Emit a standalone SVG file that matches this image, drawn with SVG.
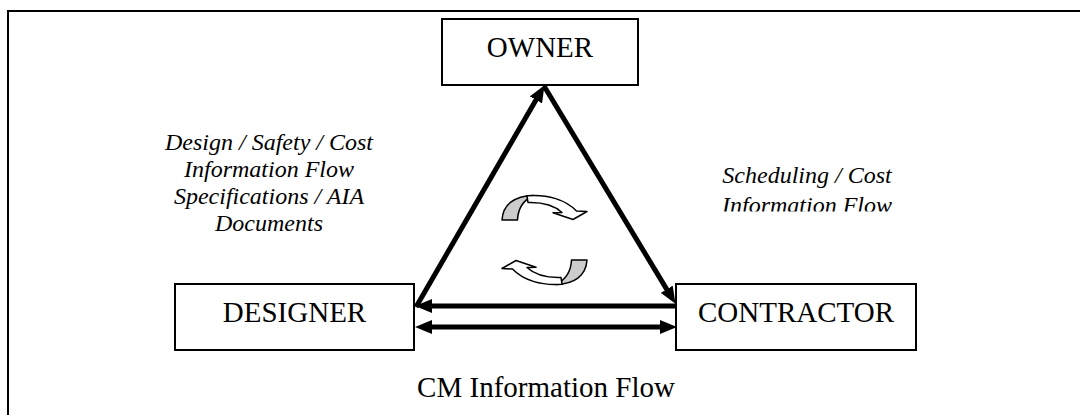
<svg xmlns="http://www.w3.org/2000/svg" width="1080" height="415" viewBox="0 0 1080 415">
<defs>
<style>
.box{fill:#fff;stroke:#000;stroke-width:2}
.lbl{font-family:"Liberation Serif","Times New Roman",serif;font-size:29px;fill:#000;text-anchor:middle}
.it{font-family:"Liberation Serif","Times New Roman",serif;font-size:24px;font-style:italic;fill:#000;text-anchor:middle}
.conn{stroke:#000;stroke-width:5;fill:none}
.curl{stroke:#000;stroke-width:1.5;stroke-linejoin:round}
</style>
<marker id="ah" markerUnits="userSpaceOnUse" markerWidth="17" markerHeight="14" refX="6" refY="7" orient="auto-start-reverse">
<path d="M0,0 L17,7 L0,14 z" fill="#000"/>
</marker>
<clipPath id="clipR"><rect x="680" y="150" width="260" height="61.5"/></clipPath>
<g id="curlShape">
<path class="curl" fill="#cccccc" d="M502,220 C503,204 515,196 533,195.5 C524,200 518,208 517.5,220 Z"/>
<path class="curl" fill="#ffffff" d="M527,195.8 C548,194 566,200 576.5,211 L587,211.5 L573,219.5 L553,212.7 L562,212.5 C555,206 545,202 528,202.5 Z"/>
</g>
</defs>
<rect x="0" y="0" width="1080" height="415" fill="#fff"/>
<rect x="8" y="11" width="1100" height="450" fill="none" stroke="#000" stroke-width="2"/>

<g id="connectors">
<line class="conn" x1="416" y1="307" x2="539" y2="94.7" marker-end="url(#ah)"/>
<line class="conn" x1="544" y1="86" x2="669.8" y2="294.4" marker-end="url(#ah)"/>
<line class="conn" x1="676" y1="306" x2="426" y2="306" marker-end="url(#ah)"/>
<line class="conn" x1="426" y1="327" x2="666" y2="327" marker-start="url(#ah)" marker-end="url(#ah)"/>
</g>

<g id="cycle-arrows">
<use href="#curlShape"/>
<use href="#curlShape" transform="rotate(180 544.5 240)"/>
</g>

<g id="owner">
<rect class="box" x="442" y="19" width="196" height="66"/>
<text class="lbl" x="540" y="57">OWNER</text>
</g>
<g id="designer">
<rect class="box" x="175" y="284" width="239" height="66"/>
<text class="lbl" x="294.5" y="322">DESIGNER</text>
</g>
<g id="contractor">
<rect class="box" x="676" y="284" width="240" height="66"/>
<text class="lbl" x="796" y="322">CONTRACTOR</text>
</g>

<g id="label-left">
<text class="it" x="269" y="150">Design / Safety / Cost</text>
<text class="it" x="269" y="177">Information Flow</text>
<text class="it" x="269" y="204">Specifications / AIA</text>
<text class="it" x="269" y="231">Documents</text>
</g>
<g id="label-right" clip-path="url(#clipR)">
<text class="it" x="807" y="183">Scheduling / Cost</text>
<text class="it" x="807" y="212.5">Information Flow</text>
</g>
<g id="caption">
<text class="lbl" x="546" y="397">CM Information Flow</text>
</g>
</svg>
